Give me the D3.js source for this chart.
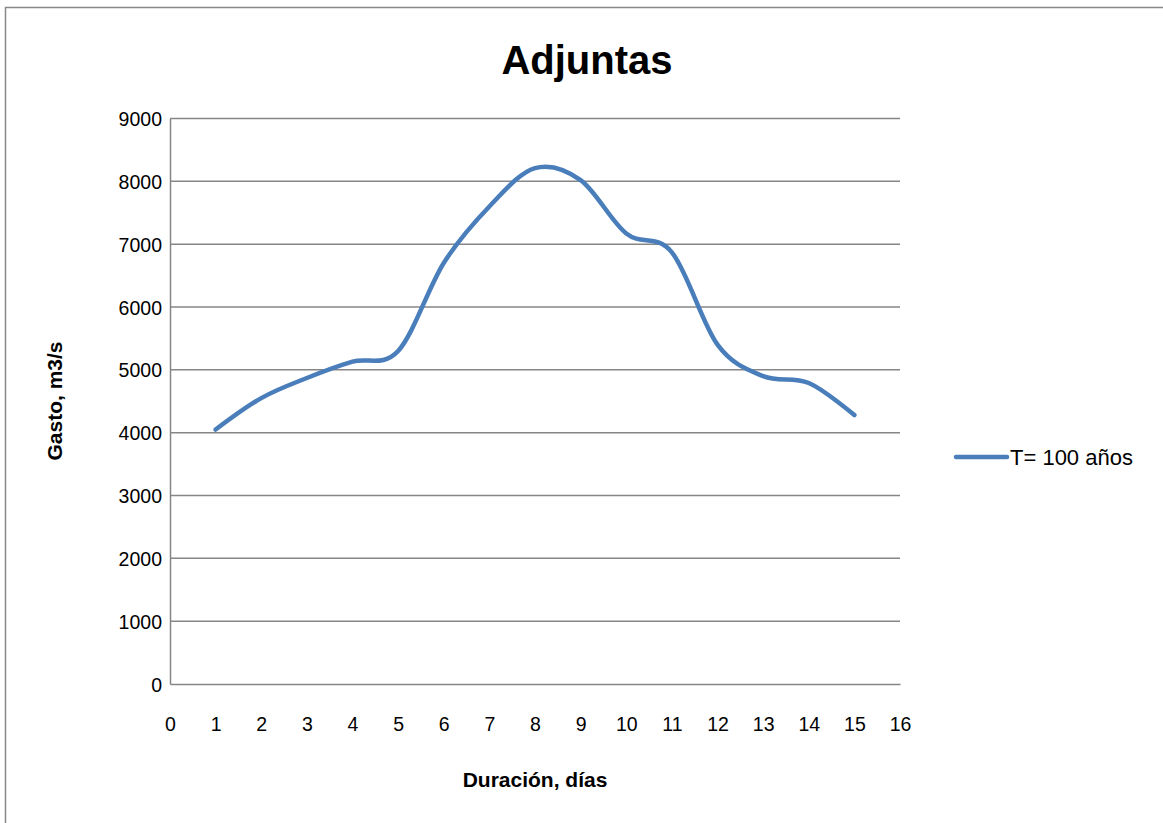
<!DOCTYPE html>
<html><head><meta charset="utf-8">
<script src="https://cdn.jsdelivr.net/npm/d3@7"></script>
<style>body{margin:0;background:#fff}svg{display:block;font-family:"Liberation Sans",Arial,sans-serif}</style>
</head><body><svg id="c" width="1163" height="823"></svg>
<script>
const days = [1,2,3,4,5,6,7,8,9,10,11,12,13,14,15];
const flow = [4050,4550,4870,5130,5300,6700,7600,8210,8020,7170,6870,5400,4900,4790,4280];
const xTicks = [0,1,2,3,4,5,6,7,8,9,10,11,12,13,14,15,16];
const yTicks = [0,1000,2000,3000,4000,5000,6000,7000,8000,9000];
const seriesName = "T= 100 años";
const titleText = "Adjuntas";
const xTitle = "Duración, días";
const yTitle = "Gasto, m3/s";

const svg = d3.select("#c");
svg.append("rect").attr("x",5.5).attr("y",7.5).attr("width",1170).attr("height",830)
  .attr("fill","#fff").attr("stroke","#888").attr("stroke-width",1.5);

const L=170, R=900, T=118.5, B=684;
const x = d3.scaleLinear().domain([0,16]).range([L,R]);
const y = d3.scaleLinear().domain([0,9000]).range([B,T]);

// gridlines
svg.append("g").selectAll("line").data(yTicks.filter(d=>d>0)).join("line")
  .attr("x1",L).attr("x2",R).attr("y1",d=>y(d)).attr("y2",d=>y(d))
  .attr("stroke","#868686").attr("stroke-width",1.5);

// axes
const yAxis = svg.append("g").attr("transform",`translate(${L},0)`)
  .call(d3.axisLeft(y).tickValues(yTicks).tickSize(0).tickPadding(8).tickFormat(d3.format("d")));
const xAxis = svg.append("g").attr("transform",`translate(0,${B})`)
  .call(d3.axisBottom(x).tickValues(xTicks).tickSize(0).tickPadding(33).tickFormat(d3.format("d")));
[yAxis,xAxis].forEach(a=>{
  a.select(".domain").attr("stroke","#868686").attr("stroke-width",1.5);
  a.selectAll("text").attr("fill","#000").style("font-size","19.5px").style("font-family","'Liberation Sans',Arial,sans-serif");
});
yAxis.selectAll("text").attr("dy","0.36em");

// line
const line = d3.line().x((d,i)=>x(days[i])).y(d=>y(d)).curve(d3.curveCatmullRom.alpha(0));
svg.append("path").datum(flow).attr("d",line).attr("fill","none")
  .attr("stroke","#4a7ebb").attr("stroke-width",4.5).attr("stroke-linecap","round");

// title
svg.append("text").attr("x",587).attr("y",74).attr("text-anchor","middle")
  .style("font-size","40px").style("font-weight","bold").text(titleText);
svg.append("text").attr("x",535).attr("y",787).attr("text-anchor","middle")
  .style("font-size","21px").style("font-weight","bold").text(xTitle);
svg.append("text").attr("transform","translate(62,401) rotate(-90)").attr("text-anchor","middle")
  .style("font-size","21px").style("font-weight","bold").text(yTitle);

// legend
const lg = svg.append("g");
lg.append("line").attr("x1",956).attr("x2",1007).attr("y1",457).attr("y2",457)
  .attr("stroke","#4a7ebb").attr("stroke-width",4.5).attr("stroke-linecap","round");
lg.append("text").attr("x",1010).attr("y",465).style("font-size","22px").text(seriesName);
</script></body></html>
